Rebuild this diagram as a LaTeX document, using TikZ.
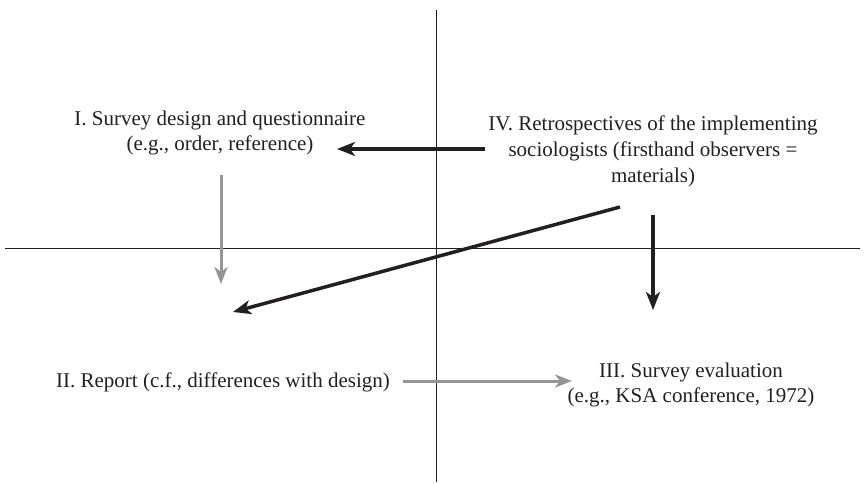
\documentclass[tikz,border=0pt]{standalone}
\usepackage{fontspec}
\setmainfont{Liberation Serif}
\usetikzlibrary{arrows.meta}
\definecolor{ink}{HTML}{231F20}
\definecolor{greyarrow}{HTML}{939598}
\tikzset{
  lbl/.style={align=center, text=ink, font=\fontsize{21}{25.5}\selectfont, inner sep=0pt},
  axis/.style={draw=ink, line width=1pt},
  darrow/.style={draw=ink, line width=3.5pt, -{Stealth[length=18pt,width=14pt,inset=5pt]}},
  garrow/.style={draw=greyarrow, line width=3pt, -{Stealth[length=17pt,width=13pt,inset=5pt]}}
}
\begin{document}
\begin{tikzpicture}[x=1pt,y=-1pt]
\useasboundingbox (0,0) rectangle (864,484);
% axes
\coordinate (vt) at (436,10);
\coordinate (vb) at (436,482);
\coordinate (hl) at (5,248);
\coordinate (hr) at (860,248);
\draw[axis] (vt) -- (vb);
\draw[axis] (hl) -- (hr);
% nodes
\node[lbl] (I) at (220,133) {I. Survey design and questionnaire\\(e.g., order, reference)};
\node[lbl, font=\fontsize{21}{26}\selectfont] (IV) at (653,151) {IV. Retrospectives of the implementing\\sociologists (firsthand observers =\\materials)};
\node[lbl] (II) at (223,382) {II. Report (c.f., differences with design)};
\node[lbl] (III) at (691,385) {III. Survey evaluation\\(e.g., KSA conference, 1972)};
% arrow end points
\coordinate (a1s) at (485,149); \coordinate (a1e) at (337,149);
\coordinate (a2s) at (221,175); \coordinate (a2e) at (221,284);
\coordinate (a3s) at (403,381); \coordinate (a3e) at (572,381);
\coordinate (a4s) at (653,215); \coordinate (a4e) at (653,310);
\coordinate (a5s) at (620,207); \coordinate (a5e) at (233,312);
% arrows
\draw[darrow] (a1s) -- (a1e);
\draw[garrow] (a2s) -- (a2e);
\draw[garrow] (a3s) -- (a3e);
\draw[darrow] (a4s) -- (a4e);
\draw[darrow] (a5s) -- (a5e);
\end{tikzpicture}
\end{document}
